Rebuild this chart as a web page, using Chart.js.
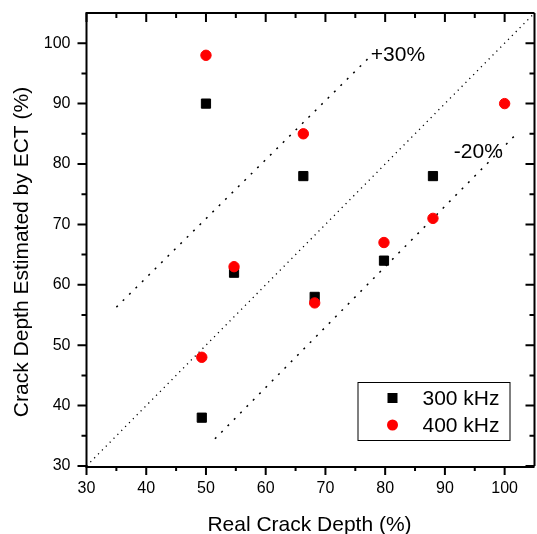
<!DOCTYPE html>
<html>
<head>
<meta charset="utf-8">
<script src="https://cdn.jsdelivr.net/npm/chart.js@4.4.1/dist/chart.umd.min.js"></script>
<style>
  html, body { margin: 0; padding: 0; overflow: hidden; background: #fff; }
  #wrap { width: 542px; height: 534px; }
</style>
</head>
<body>
<div id="wrap"><canvas id="chart" width="542" height="534"></canvas></div>
<script>
// data
const depth300 = [50, 54.7, 49.3, 66.3, 88, 79.8, 68.2];
const est300   = [90, 62, 38, 78, 78, 64, 58];
const depth400 = [50, 66.3, 54.7, 49.3, 68.2, 79.8, 88, 100];
const est400   = [98, 85, 63, 48, 57, 67, 71, 90];

// reference lines
const equalX   = [30, 105];
const equalY   = [30, 105];
const plus30X  = [35, 78];
const plus30Y  = [56.3, 98.3];
const minus20X = [51.5, 102];
const minus20Y = [34.5, 85];

const majorTicks = [30, 40, 50, 60, 70, 80, 90, 100];
const minorTicks = [35, 45, 55, 65, 75, 85, 95];

const FONT = '"Liberation Sans", Arial, sans-serif';

function pts(xs, ys) {
  return xs.map((x, i) => ({ x: x, y: ys[i] }));
}

// frame, ticks, titles, notes and legend, all placed through the chart scales
const framePlugin = {
  id: 'frame',
  afterDraw(chart) {
    const { ctx, chartArea: a, scales: { x, y } } = chart;
    ctx.save();
    ctx.strokeStyle = '#000';
    ctx.lineWidth = 2;
    ctx.lineCap = 'butt';
    ctx.beginPath();
    ctx.moveTo(a.left, a.top); ctx.lineTo(a.right, a.top);
    ctx.moveTo(a.right, a.top); ctx.lineTo(a.right, a.bottom);
    ctx.moveTo(a.left, a.bottom + 1); ctx.lineTo(a.right, a.bottom + 1);
    ctx.moveTo(a.left, a.top - 1); ctx.lineTo(a.left, a.bottom + 2);
    ctx.stroke();

    const tick = (v, len) => {
      const px = x.getPixelForValue(v);
      const py = y.getPixelForValue(v);
      ctx.moveTo(px, a.bottom); ctx.lineTo(px, a.bottom + len);
      ctx.moveTo(px, a.top); ctx.lineTo(px, a.top + len);
      ctx.moveTo(a.left, py); ctx.lineTo(a.left - len, py);
      ctx.moveTo(a.right, py); ctx.lineTo(a.right - len, py);
    };
    ctx.beginPath();
    majorTicks.forEach(v => tick(v, 9));
    minorTicks.forEach(v => tick(v, 5));
    ctx.stroke();

    ctx.fillStyle = '#000';
    ctx.font = '21px ' + FONT;
    ctx.textAlign = 'center';
    ctx.textBaseline = 'alphabetic';
    ctx.fillText('Real Crack Depth (%)', (a.left + a.right) / 2 - 1, 531);
    ctx.save();
    ctx.translate(28, 252);
    ctx.rotate(-Math.PI / 2);
    ctx.fillText('Crack Depth Estimated by ECT (%)', 0, 0);
    ctx.restore();

    ctx.textAlign = 'left';
    ctx.fillText('+30%', x.getPixelForValue(77.6), y.getPixelForValue(97.1));
    ctx.fillText('-20%', x.getPixelForValue(91.5), y.getPixelForValue(81.0));

    // legend
    const bx = a.right - 177, by = a.bottom - 84;
    ctx.lineWidth = 1;
    ctx.strokeRect(bx + 0.5, by + 0.5, 152, 58);
    const items = [chart.data.datasets[0], chart.data.datasets[1]];
    items.forEach((ds, i) => {
      const cy = by + 16 + i * 27;
      const cx = bx + 35;
      ctx.fillStyle = ds.backgroundColor;
      if (ds.pointStyle === 'rect') {
        ctx.fillRect(cx - 5, cy - 5, 10, 10);
      } else {
        ctx.beginPath();
        ctx.arc(cx, cy, 5.5, 0, Math.PI * 2);
        ctx.fill();
      }
      ctx.fillStyle = '#000';
      ctx.textBaseline = 'middle';
      ctx.fillText(ds.label, bx + 65, cy + 1);
    });
    ctx.restore();
  }
};

const dotted = (xs, ys, dash, width) => ({
  type: 'line',
  data: pts(xs, ys),
  borderColor: '#000',
  borderWidth: width,
  borderDash: dash,
  pointRadius: 0,
  fill: false,
  order: 2
});

new Chart(document.getElementById('chart'), {
  type: 'scatter',
  data: {
    datasets: [
      {
        label: '300 kHz',
        data: pts(depth300, est300),
        pointStyle: 'rect',
        pointRadius: 6.5,
        backgroundColor: '#000',
        borderColor: '#000',
        borderWidth: 1,
        order: 1
      },
      {
        label: '400 kHz',
        data: pts(depth400, est400),
        pointStyle: 'circle',
        pointRadius: 5.2,
        backgroundColor: '#ff0000',
        borderColor: '#ff0000',
        borderWidth: 1,
        order: 0
      },
      dotted(equalX, equalY, [1.2, 4.3], 1.3),
      dotted(plus30X, plus30Y, [2, 7], 1.5),
      dotted(minus20X, minus20Y, [2, 7], 1.5)
    ]
  },
  options: {
    responsive: false,
    animation: false,
    devicePixelRatio: 1,
    layout: { padding: { top: 13, right: 4, left: 0, bottom: 0 } },
    plugins: {
      legend: { display: false },
      tooltip: { enabled: false }
    },
    scales: {
      x: {
        type: 'linear',
        min: 30,
        max: 105,
        grid: { display: false, drawTicks: false },
        border: { display: false },
        ticks: {
          stepSize: 10,
          includeBounds: false,
          padding: 13,
          maxRotation: 0,
          color: '#000',
          font: { family: FONT, size: 16 }
        },
        afterFit: s => { s.height = 68; s.paddingLeft = 0; s.paddingRight = 0; }
      },
      y: {
        type: 'linear',
        min: 30,
        max: 105,
        grid: { display: false, drawTicks: false },
        border: { display: false },
        ticks: {
          stepSize: 10,
          includeBounds: false,
          padding: 16,
          color: '#000',
          font: { family: FONT, size: 16 }
        },
        afterFit: s => { s.width = 86.5; s.paddingTop = 0; s.paddingBottom = 0; }
      }
    }
  },
  plugins: [framePlugin]
});
</script>
</body>
</html>
